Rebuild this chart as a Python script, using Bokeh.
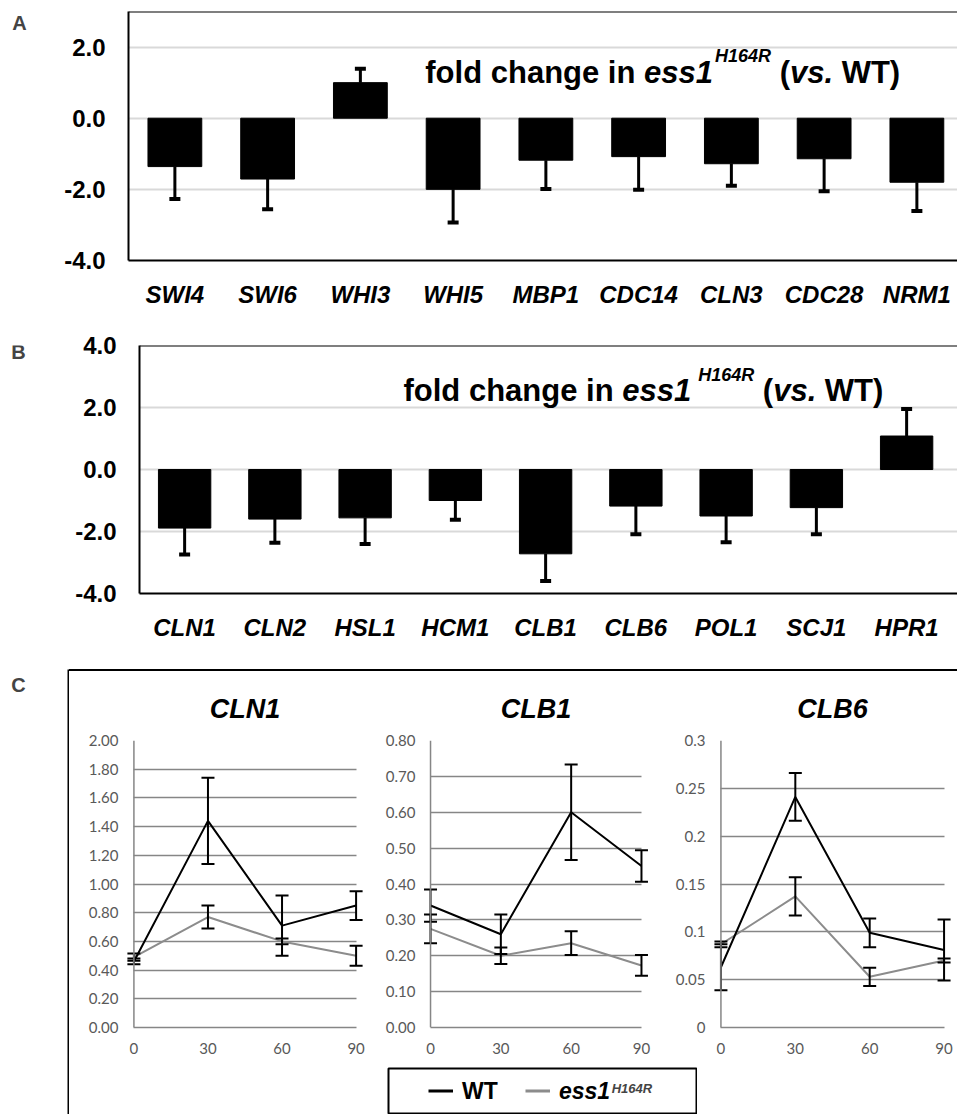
import numpy as np
from bokeh.plotting import figure
from bokeh.models import (Range1d, FixedTicker, NumeralTickFormatter, ColumnDataSource,
                          Whisker, TeeHead, Span, Label, Legend, LegendItem, Spacer)
from bokeh.layouts import column, row
from bokeh.embed import file_html
from bokeh.resources import INLINE

# ---------------- data ----------------
genes_a = ["SWI4", "SWI6", "WHI3", "WHI5", "MBP1", "CDC14", "CLN3", "CDC28", "NRM1"]
fold_a = [-1.36, -1.71, 1.00, -2.00, -1.18, -1.08, -1.28, -1.14, -1.80]
err_a = [0.91, 0.85, 0.39, 0.93, 0.81, 0.93, 0.62, 0.91, 0.81]

genes_b = ["CLN1", "CLN2", "HSL1", "HCM1", "CLB1", "CLB6", "POL1", "SCJ1", "HPR1"]
fold_b = [-1.89, -1.60, -1.56, -1.00, -2.72, -1.18, -1.50, -1.23, 1.08]
err_b = [0.85, 0.76, 0.84, 0.62, 0.88, 0.91, 0.85, 0.86, 0.87]

y_ticks_a = [-4, -2, 0, 2]
y_ticks_b = [-4, -2, 0, 2, 4]

time_min = [0, 30, 60, 90]
x_ticks_c = [0, 30, 60, 90]

cln1_wt = [0.46, 1.44, 0.71, 0.85]
cln1_wt_err = [0.02, 0.30, 0.21, 0.10]
cln1_mut = [0.49, 0.77, 0.60, 0.50]
cln1_mut_err = [0.025, 0.08, 0.02, 0.07]
cln1_ticks = [0.0, 0.2, 0.4, 0.6, 0.8, 1.0, 1.2, 1.4, 1.6, 1.8, 2.0]

clb1_wt = [0.34, 0.26, 0.60, 0.45]
clb1_wt_err = [0.045, 0.055, 0.133, 0.044]
clb1_mut = [0.275, 0.20, 0.235, 0.173]
clb1_mut_err = [0.04, 0.023, 0.033, 0.029]
clb1_ticks = [0.0, 0.1, 0.2, 0.3, 0.4, 0.5, 0.6, 0.7, 0.8]

clb6_wt = [0.063, 0.241, 0.099, 0.081]
clb6_wt_err = [0.024, 0.025, 0.015, 0.032]
clb6_mut = [0.087, 0.137, 0.053, 0.070]
clb6_mut_err = [0.003, 0.020, 0.0095, 0.002]
clb6_ticks = [0.0, 0.05, 0.1, 0.15, 0.2, 0.25, 0.3]

# ---------------- styling helpers ----------------
FONT = "Liberation Sans"
GRAY = "#8c8c8c"
GRID_C = "#868686"
TICK_C = "#595959"

# Arial/Liberation Sans Bold advance widths (per 1000 em)
ADV = {' ': 278, '(': 333, ')': 333, '.': 278, '1': 556, '4': 556, '6': 556, 'H': 722,
       'R': 722, 'T': 611, 'W': 944, 'a': 556, 'c': 556, 'd': 611, 'e': 556, 'f': 333,
       'g': 611, 'h': 611, 'i': 278, 'l': 278, 'n': 611, 'o': 611, 's': 556, 'v': 556}


def tw(s, size):
    return sum(ADV.get(c, 556) for c in s) / 1000.0 * size


def add_note(p, x, y, y_sup, gap_before_sup):
    big, small = 31, 18
    segs = [("fold change in", "bold", big, y, tw("fold change in ", big)),
            ("ess1", "bold italic", big, y, tw("ess1", big) + gap_before_sup),
            ("H164R", "bold italic", small, y_sup, tw("H164R", small) + tw(" ", big)),
            ("(", "bold", big, y, tw("(", big)),
            ("vs.", "bold italic", big, y, tw("vs. ", big)),
            ("WT)", "bold", big, y, 0)]
    off = 0.0
    for text, style, size, yy, adv in segs:
        p.add_layout(Label(x=x, y=yy, x_offset=off, text=text, text_font=FONT,
                           text_font_size=f"{size}px", text_font_style=style,
                           text_color="black", text_baseline="alphabetic", text_align="left"))
        off += adv


def letter_fig(letter, w, h, cx, cy_from_top, baseline="middle"):
    f = figure(width=w, height=h, min_border=0, toolbar_location=None, output_backend="svg",
               x_axis_type=None, y_axis_type=None, outline_line_color=None,
               x_range=Range1d(0, w), y_range=Range1d(0, h))
    f.add_layout(Label(x=cx, y=h - cy_from_top, text=letter, text_font=FONT,
                       text_font_size="20px", text_font_style="bold", text_align="center",
                       text_baseline=baseline))
    return f


def bar_panel(genes, fold, err, ymin, ymax, ticks, width, height, left, top, bottom, unit_px,
              note_xy, note_sup_y, sup_gap):
    frame_w = width - left
    p = figure(width=width, height=height, x_range=Range1d(0, frame_w / unit_px),
               y_range=Range1d(ymin, ymax), min_border_left=left, min_border_right=0,
               min_border_top=top, min_border_bottom=bottom, toolbar_location=None,
               output_backend="svg", outline_line_color=None)
    xs = [i + 0.5 for i in range(len(genes))]
    src = ColumnDataSource(dict(x=xs, fold=fold))
    p.vbar(x="x", top="fold", bottom=0, width=0.58, source=src,
           fill_color="black", line_color="black")

    neg = [i for i, v in enumerate(fold) if v < 0]
    pos = [i for i, v in enumerate(fold) if v >= 0]
    head = lambda: TeeHead(size=11, line_width=4, line_color="black")
    if neg:
        s = ColumnDataSource(dict(base=[xs[i] for i in neg],
                                  lower=[fold[i] - err[i] for i in neg],
                                  upper=[fold[i] for i in neg]))
        p.add_layout(Whisker(source=s, base="base", lower="lower", upper="upper",
                             line_color="black", line_width=3, lower_head=head(),
                             upper_head=None, level="annotation"))
    if pos:
        s = ColumnDataSource(dict(base=[xs[i] for i in pos],
                                  lower=[fold[i] for i in pos],
                                  upper=[fold[i] + err[i] for i in pos]))
        p.add_layout(Whisker(source=s, base="base", lower="lower", upper="upper",
                             line_color="black", line_width=3, upper_head=head(),
                             lower_head=None, level="annotation"))

    p.xaxis.ticker = FixedTicker(ticks=xs)
    p.xaxis.major_label_overrides = {x: g for x, g in zip(xs, genes)}
    p.xaxis.major_label_text_font = FONT
    p.xaxis.major_label_text_font_size = "24px"
    p.xaxis.major_label_text_font_style = "bold italic"
    p.xaxis.major_label_text_color = "black"
    p.xaxis.major_label_standoff = 20
    p.yaxis.ticker = FixedTicker(ticks=ticks)
    p.yaxis.formatter = NumeralTickFormatter(format="0.0")
    p.yaxis.major_label_text_font = FONT
    p.yaxis.major_label_text_font_size = "24px"
    p.yaxis.major_label_text_font_style = "bold"
    p.yaxis.major_label_text_color = "black"
    p.yaxis.major_label_standoff = 23
    for ax in (p.xaxis, p.yaxis):
        ax.axis_line_color = "black"
        ax.axis_line_width = 2
        ax.major_tick_out = 0
        ax.major_tick_in = 0
        ax.minor_tick_out = 0
        ax.minor_tick_in = 0
    p.xgrid.visible = False
    p.ygrid.grid_line_color = "#d9d9d9"
    p.ygrid.grid_line_width = 2
    p.add_layout(Span(location=ymax, dimension="width", line_color="black", line_width=2))
    add_note(p, note_xy[0], note_xy[1], note_sup_y, sup_gap)
    return p


def add_err(p, x, y, e):
    s = ColumnDataSource(dict(base=x, lower=[a - b for a, b in zip(y, e)],
                              upper=[a + b for a, b in zip(y, e)]))
    p.add_layout(Whisker(source=s, base="base", lower="lower", upper="upper",
                         line_color="black", line_width=2,
                         lower_head=TeeHead(size=13, line_width=2, line_color="black"),
                         upper_head=TeeHead(size=13, line_width=2, line_color="black"),
                         level="annotation"))


def line_panel(title, wt, wt_err, mut, mut_err, ymax, yticks, fmt, width, left, right,
               top, bottom, height=396):
    p = figure(width=width, height=height, x_range=Range1d(-3, 93), y_range=Range1d(0, ymax),
               min_border_left=left, min_border_right=right, min_border_top=top,
               min_border_bottom=bottom, toolbar_location=None, output_backend="svg",
               outline_line_color=None, title=title)
    p.title.align = "center"
    p.title.text_font = FONT
    p.title.text_font_size = "27px"
    p.title.text_font_style = "bold italic"
    p.title.text_color = "black"
    p.title.standoff = 33
    p.line(time_min, mut, line_color=GRAY, line_width=2)
    p.line(time_min, wt, line_color="black", line_width=2)
    add_err(p, time_min, mut, mut_err)
    add_err(p, time_min, wt, wt_err)
    p.xaxis.ticker = FixedTicker(ticks=x_ticks_c)
    p.xaxis.bounds = (0, 90)
    p.yaxis.ticker = FixedTicker(ticks=yticks)
    p.yaxis.formatter = NumeralTickFormatter(format=fmt)
    for ax in (p.xaxis, p.yaxis):
        ax.axis_line_color = GRID_C
        ax.axis_line_width = 1.5
        ax.major_tick_out = 0
        ax.major_tick_in = 0
        ax.minor_tick_out = 0
        ax.minor_tick_in = 0
        ax.major_label_text_font = "Lato"
        ax.major_label_text_font_size = "15px"
        ax.major_label_text_color = TICK_C
    p.yaxis.axis_line_color = None
    p.xaxis.major_label_standoff = 15
    p.yaxis.major_label_standoff = 8
    p.add_layout(Span(location=0, dimension="height", line_color=GRID_C, line_width=1.5))
    p.xgrid.visible = False
    p.ygrid.grid_line_color = GRID_C
    p.ygrid.grid_line_width = 1.5
    p.ygrid.cross_bounds = (0, 90)
    return p


def black_bar(w, h):
    return figure(width=w, height=h, min_border=0, toolbar_location=None,
                  output_backend="svg", x_axis_type=None, y_axis_type=None,
                  outline_line_color=None, background_fill_color="black",
                  border_fill_color="black", x_range=Range1d(0, 1), y_range=Range1d(0, 1))


# ---------------- panel A / B ----------------
pa = bar_panel(genes_a, fold_a, err_a, -4, 3, y_ticks_a, width=917, height=318, left=88,
               top=11, bottom=58, unit_px=92.75, note_xy=(3.20, 1.285), note_sup_y=1.74,
               sup_gap=2)
pb = bar_panel(genes_b, fold_b, err_b, -4, 4, y_ticks_b, width=917, height=351, left=99,
               top=27, bottom=76, unit_px=90.25, note_xy=(2.925, 2.55), note_sup_y=3.05,
               sup_gap=7)
row_a = row(letter_fig("A", 40, 318, 19, 15), pa)
row_b = row(letter_fig("B", 40, 351, 18, 9), pb)

# ---------------- panel C ----------------
c1 = line_panel("CLN1", cln1_wt, cln1_wt_err, cln1_mut, cln1_mut_err, 2.0, cln1_ticks, "0.00",
                width=308, left=57, right=14, top=68, bottom=40)
c2 = line_panel("CLB1", clb1_wt, clb1_wt_err, clb1_mut, clb1_mut_err, 0.8, clb1_ticks, "0.00",
                width=289, left=46, right=18, top=69, bottom=39)
c3 = line_panel("CLB6", clb6_wt, clb6_wt_err, clb6_mut, clb6_mut_err, 0.3, clb6_ticks, "0.[00]",
                width=291, left=47, right=6, top=68, bottom=39)

# legend box
lf = figure(width=310, height=47, min_border=1, toolbar_location=None, output_backend="svg",
            x_axis_type=None, y_axis_type=None, outline_line_color="black",
            outline_line_width=2, x_range=Range1d(0, 1), y_range=Range1d(0, 1))
nan_src = dict(x=np.array([np.nan]), y=np.array([np.nan]))
r_wt = lf.line(x="x", y="y", source=ColumnDataSource(dict(nan_src)), line_color="black",
               line_width=3)
r_mut = lf.line(x="x", y="y", source=ColumnDataSource(dict(nan_src)), line_color=GRAY,
                line_width=3)
leg_kw = dict(orientation="horizontal", border_line_color=None, background_fill_alpha=0,
              padding=0, spacing=0, glyph_width=25, glyph_height=20, label_standoff=9,
              label_text_font=FONT, label_text_font_size="23px", label_text_color="black")
lf.add_layout(Legend(items=[LegendItem(label="WT", renderers=[r_wt])], location="left",
                     margin=40, label_text_font_style="bold", **leg_kw))
lf.add_layout(Legend(items=[LegendItem(label="ess1", renderers=[r_mut])], location="left",
                     margin=137, label_text_font_style="bold italic", **leg_kw))
lf.add_layout(Label(x=137 + 25 + 9 + tw("ess1", 23) + 1, y=25, x_units="screen",
                    y_units="screen", text="H164R", text_font=FONT, text_font_size="13px",
                    text_font_style="bold italic", text_baseline="alphabetic"))

top_line = Spacer(width=888, height=2, margin=0, styles={"background-color": "black"})

panel_c = row(
    letter_fig("C", 67, 445, 18, 4, baseline="top"),
    black_bar(2, 445),
    column(top_line, row(c1, c2, c3), row(Spacer(width=318, height=47), lf)),
)

layout = column(row_a, row_b, panel_c)

with open("out.html", "w") as f:
    f.write(file_html(layout, INLINE))
